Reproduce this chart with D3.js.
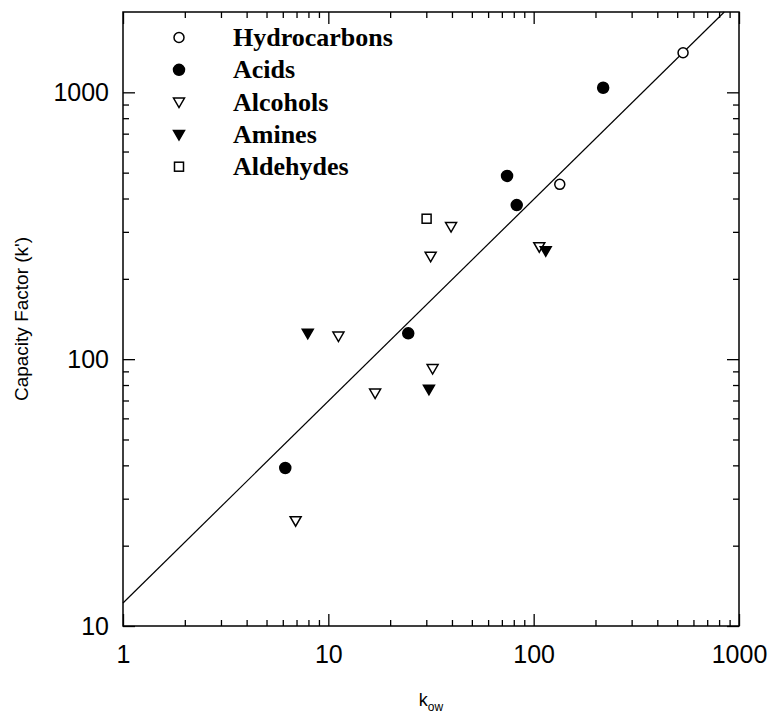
<!DOCTYPE html>
<html>
<head>
<meta charset="utf-8">
<script src="https://cdn.jsdelivr.net/npm/d3@7"></script>
<style>
  body { margin: 0; background: #fff; }
  svg { display: block; }
</style>
</head>
<body>
<svg id="chart" width="769" height="714"></svg>
<script>
// series: [k_ow, k']
var hydrocarbons = [[534, 1407], [134, 452]];
var acids = [[218, 1040], [74.2, 486], [82.7, 378], [24.5, 125], [6.17, 39.1]];
var alcohols = [[39.6, 314], [106.5, 264], [31.5, 243], [11.2, 122], [32.2, 92.2], [16.9, 74.6], [6.93, 24.8]];
var amines = [[114.5, 255], [7.94, 125], [30.9, 77.2]];
var aldehydes = [[30.1, 336]];

// fitted line end points
var fitLine = [[1, 12.2], [848, 2000]];

var xMajor = [1, 10, 100, 1000];
var yMajor = [10, 100, 1000];
var xMinor = [2, 3, 4, 5, 6, 7, 8, 9, 20, 30, 40, 50, 60, 70, 80, 90, 200, 300, 400, 500, 600, 700, 800, 900];
var yMinor = [20, 30, 40, 50, 60, 70, 80, 90, 200, 300, 400, 500, 600, 700, 800, 900];

var legendNames = ["Hydrocarbons", "Acids", "Alcohols", "Amines", "Aldehydes"];
var legendShapes = ["circleOpen", "circleFilled", "triOpen", "triFilled", "square"];

var svg = d3.select("#chart"),
    plotLeft = 123, plotRight = 739, plotTop = 12, plotBottom = 626,
    width = plotRight - plotLeft,
    height = plotBottom - plotTop;

var x = d3.scaleLog().domain([1, 1000]).range([0, width]);
var y = d3.scaleLog().domain([10, 2000]).range([height, 0]);

var g = svg.append("g").attr("transform", "translate(" + plotLeft + "," + plotTop + ")");

function styleAxis(sel) {
    sel.select(".domain").remove();
    sel.selectAll("line").attr("stroke", "#000").attr("stroke-width", 1.3);
    sel.selectAll("text")
        .attr("font-family", "Liberation Sans, Arial, sans-serif")
        .attr("font-size", 25)
        .attr("fill", "#000");
}

// major + minor ticks on all sides, pointing inward
g.append("g").attr("transform", "translate(0," + height + ")")
    .call(d3.axisBottom(x).tickValues(xMajor).tickSize(-12).tickPadding(19).tickFormat(d3.format("d")))
    .call(styleAxis);
g.append("g").attr("transform", "translate(0," + height + ")")
    .call(d3.axisBottom(x).tickValues(xMinor).tickSize(-6).tickFormat(""))
    .call(styleAxis);
g.append("g")
    .call(d3.axisTop(x).tickValues(xMajor).tickSize(-12).tickFormat(""))
    .call(styleAxis);
g.append("g")
    .call(d3.axisTop(x).tickValues(xMinor).tickSize(-6).tickFormat(""))
    .call(styleAxis);
g.append("g")
    .call(d3.axisLeft(y).tickValues(yMajor).tickSize(-12).tickPadding(14).tickFormat(d3.format("d")))
    .call(styleAxis);
g.append("g")
    .call(d3.axisLeft(y).tickValues(yMinor).tickSize(-6).tickFormat(""))
    .call(styleAxis);
g.append("g").attr("transform", "translate(" + width + ",0)")
    .call(d3.axisRight(y).tickValues(yMajor).tickSize(-12).tickFormat(""))
    .call(styleAxis);
g.append("g").attr("transform", "translate(" + width + ",0)")
    .call(d3.axisRight(y).tickValues(yMinor).tickSize(-6).tickFormat(""))
    .call(styleAxis);

g.append("rect")
    .attr("width", width).attr("height", height)
    .attr("fill", "none").attr("stroke", "#000").attr("stroke-width", 1.5);

// fit line
g.append("path")
    .datum(fitLine)
    .attr("fill", "none")
    .attr("stroke", "#000")
    .attr("stroke-width", 1.2)
    .attr("d", d3.line().x(function(d) { return x(d[0]); }).y(function(d) { return y(d[1]); }));

// marker drawing
function drawMarker(sel, shape) {
    var filled = (shape == "circleFilled" || shape == "triFilled");
    if (shape == "circleOpen" || shape == "circleFilled") {
        sel.append("circle").attr("r", filled ? 5.5 : 5);
    } else if (shape == "square") {
        sel.append("rect").attr("x", -4.5).attr("y", -4.5).attr("width", 9).attr("height", 9);
    } else {
        sel.append("path").attr("d", "M-5.5,-4L5.5,-4L0,5.5Z");
    }
    sel.selectAll("*")
        .attr("fill", filled ? "#000" : "#fff")
        .attr("stroke", "#000")
        .attr("stroke-width", 1.5);
}

var series = [hydrocarbons, acids, alcohols, amines, aldehydes];
series.forEach(function(data, i) {
    g.selectAll(".pt" + i)
        .data(data)
        .enter().append("g")
        .attr("class", "pt" + i)
        .attr("transform", function(d) { return "translate(" + x(d[0]) + "," + y(d[1]) + ")"; })
        .each(function() { drawMarker(d3.select(this), legendShapes[i]); });
});

// legend
var legend = svg.selectAll(".legend")
    .data(legendNames)
    .enter().append("g")
    .attr("class", "legend")
    .attr("transform", function(d, i) { return "translate(179," + (37.5 + i * 32.3) + ")"; });

legend.each(function(d, i) { drawMarker(d3.select(this), legendShapes[i]); });

legend.append("text")
    .attr("x", 54)
    .attr("y", 8.5)
    .attr("font-family", "Liberation Serif, Times New Roman, serif")
    .attr("font-weight", "bold")
    .attr("font-size", 26)
    .text(function(d) { return d; });

// axis titles
svg.append("text")
    .attr("transform", "translate(28," + (plotTop + height / 2) + ") rotate(-90)")
    .attr("text-anchor", "middle")
    .attr("font-family", "Liberation Sans, Arial, sans-serif")
    .attr("font-size", 19)
    .text("Capacity Factor (k')");

var xt = svg.append("text")
    .attr("x", plotLeft + width / 2)
    .attr("y", 706)
    .attr("text-anchor", "middle")
    .attr("font-family", "Liberation Sans, Arial, sans-serif")
    .attr("font-size", 18);
xt.append("tspan").text("k");
xt.append("tspan").attr("font-size", 12).attr("dy", 5).text("ow");
</script>
</body>
</html>
